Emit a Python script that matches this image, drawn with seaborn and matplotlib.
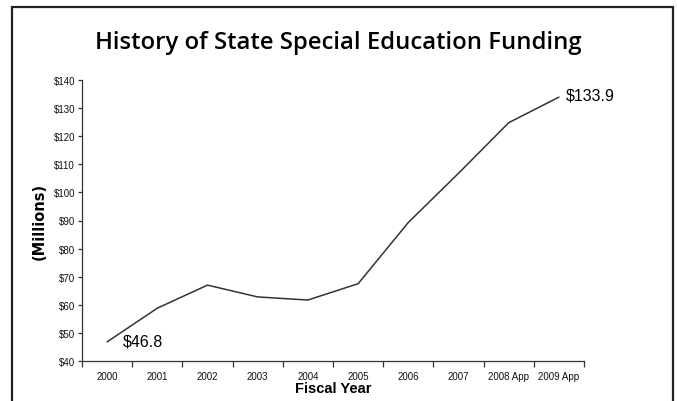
import matplotlib
matplotlib.use("Agg")
import matplotlib.pyplot as plt
from matplotlib.patches import Rectangle
from matplotlib.ticker import FixedLocator, NullFormatter, FixedFormatter
import seaborn as sns
import pandas as pd

years = ["2000", "2001", "2002", "2003", "2004", "2005", "2006", "2007", "2008 App", "2009 App"]
funding = [46.8, 58.8, 67.0, 62.8, 61.7, 67.5, 89.3, 106.8, 124.8, 133.9]
y_ticks = [40, 50, 60, 70, 80, 90, 100, 110, 120, 130, 140]
y_tick_labels = ["$" + str(v) for v in y_ticks]
title = "History of State Special Education Funding"
first_label = "$46.8"
last_label = "$133.9"

df = pd.DataFrame({"year": years, "funding": funding, "pos": range(len(years))})

sns.set_style("white", {"xtick.bottom": True, "ytick.left": True})
W, H = 677, 402
fig = plt.figure(figsize=(W / 100, H / 100), dpi=100)
ax = fig.add_axes([82 / W, 1 - 362 / H, (584 - 82) / W, (362 - 81) / H])

sns.lineplot(data=df, x="pos", y="funding", ax=ax, color="#333333", linewidth=1.1)

ax.set_xlim(-0.5, len(years) - 0.5)
ax.set_ylim(40, 140)

# x ticks at category boundaries, labels at centres
ax.xaxis.set_major_locator(FixedLocator([i - 0.5 for i in range(len(years) + 1)]))
ax.xaxis.set_major_formatter(NullFormatter())
ax.xaxis.set_minor_locator(FixedLocator(list(range(len(years)))))
ax.xaxis.set_minor_formatter(FixedFormatter(years))
ax.tick_params(axis="x", which="major", bottom=True, direction="out", length=4, width=0.9, color="#333333")
ax.tick_params(axis="x", which="minor", bottom=True, length=0, pad=7, labelsize=7, labelcolor="#111111")
for lab in ax.get_xticklabels(minor=True):
    lab.set_fontfamily("Liberation Sans")

ax.set_yticks(y_ticks)
ax.set_yticklabels(y_tick_labels, fontfamily="Liberation Sans", fontsize=7, color="#111111")
ax.tick_params(axis="y", left=True, direction="out", length=3, width=0.9, color="#333333", pad=2)

for s in ["top", "right"]:
    ax.spines[s].set_visible(False)
for s in ["left", "bottom"]:
    ax.spines[s].set_color("#333333")
    ax.spines[s].set_linewidth(0.9)

ax.set_xlabel("Fiscal Year", fontfamily="Liberation Sans", fontweight="bold", fontsize=10.5,
              labelpad=0, color="black")
ax.set_ylabel("(Millions)", fontfamily="DejaVu Sans", fontweight="bold", fontsize=10.5,
              labelpad=5, color="black")

ax.text(0.32, 47.1, first_label, fontfamily="Liberation Sans", fontsize=11.5,
        ha="left", va="center", color="black")
ax.text(9.14, 134.8, last_label, fontfamily="Liberation Sans", fontsize=11.5,
        ha="left", va="center", color="black")

fig.text(0.5, 1 - 43 / H, title, fontfamily="Open Sans", fontweight="semibold", fontsize=17.2,
         ha="center", va="center", color="black")

# outer frame
fig.patches.append(Rectangle((11.5 / W, -0.05), (672.5 - 11.5) / W, 1.05 - 7.5 / H,
                             transform=fig.transFigure, fill=False, edgecolor="#222222",
                             linewidth=1.6))

fig.savefig("out.png", dpi=100)
